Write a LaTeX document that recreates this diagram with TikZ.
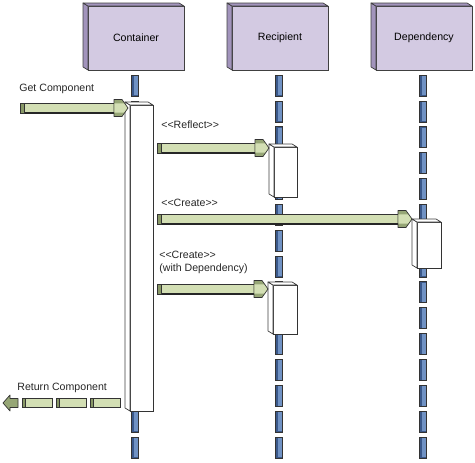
\documentclass[tikz,border=0pt]{standalone}
\usepackage{fontspec}
\setmainfont{Liberation Sans}
\usetikzlibrary{positioning, calc}

\definecolor{boxviolet}{RGB}{211,202,226}
\definecolor{boxside}{RGB}{162,148,188}
\definecolor{lifeblue}{RGB}{112,146,196}
\definecolor{lifeside}{RGB}{58,88,138}
\definecolor{shaftgreen}{RGB}{211,223,180}
\definecolor{headgreen}{RGB}{150,166,118}
\definecolor{tailgreen}{RGB}{136,152,102}

\tikzset{
  actor/.style={draw=black!75, fill=boxviolet, minimum width=96pt, minimum height=64pt, inner sep=0pt, outer sep=0pt},
  activation/.style={draw=black!80, fill=white, minimum width=23pt, inner sep=0pt, outer sep=0pt, anchor=north west},
  lbl/.style={anchor=west, inner sep=0pt, text=black!85}
}

% left and top faces of a box
\newcommand{\depthfaces}[2]{%
  \filldraw[fill=#2, draw=black!75, line join=round] (#1.north west) -- ([shift={(-5,-3)}]#1.north west) -- ([shift={(-5,-3)}]#1.south west) -- (#1.south west) -- cycle;
  \filldraw[fill=#2, draw=black!75, line join=round] (#1.north west) -- ([shift={(-5,-3)}]#1.north west) -- ([shift={(-5,-3)}]#1.north east) -- (#1.north east) -- cycle;
}

% block arrow from tail #1 to tip #2
\newcommand{\blockmsg}[2]{%
  \filldraw[fill=shaftgreen, draw=black!80] let \p1=(#1), \p2=(#2) in
    (\x1,\y2+5pt) rectangle (\x2-13pt,\y2-5pt);
  \draw[black!85, line width=1.2pt] let \p1=(#1), \p2=(#2) in
    (\x1,\y2-5pt) -- (\x2-13pt,\y2-5pt);
  \filldraw[fill=tailgreen, draw=black!80] let \p1=(#1), \p2=(#2) in
    (\x1,\y2+5pt) rectangle (\x1+4pt,\y2-5pt);
  \filldraw[fill=headgreen, draw=black!80, line join=round] let \p1=(#1), \p2=(#2) in
    (\x2-14pt,\y2+8.5pt) -- (\x2-6pt,\y2+8.5pt) -- (\x2,\y2) -- (\x2-6pt,\y2-8.5pt) -- (\x2-14pt,\y2-8.5pt) -- cycle;
  \fill[shaftgreen] let \p1=(#1), \p2=(#2) in
    (\x2-13.6pt,\y2+4.6pt) -- (\x2-4pt,\y2+4.6pt) -- (\x2-0.8pt,\y2) -- (\x2-4pt,\y2-4.6pt) -- (\x2-13.6pt,\y2-4.6pt) -- cycle;
}

\begin{document}
\begin{tikzpicture}[x=1pt, y=-1pt, line width=0.7pt, font=\fontsize{10.6}{12.8}\selectfont]
    \useasboundingbox (0,0) rectangle (475,463);
    % Objects
    \node[actor] (cont) at (136,38) {Container};
    \node[actor, right=48pt of cont] (recip) {Recipient};
    \node[actor, right=48pt of recip] (dep) {Dependency};
    \depthfaces{cont}{boxside}
    \depthfaces{recip}{boxside}
    \depthfaces{dep}{boxside}
    % Lifelines
    \foreach \p in {cont,recip,dep}
      \foreach \k in {0,...,14}{
        \filldraw[fill=lifeside, draw=black!80] ([shift={(-4.5,5+\k*25.85)}]\p.south) rectangle +(7,21);
        \fill[lifeblue] ([shift={(-2.3,5.8+\k*25.85)}]\p.south) rectangle +(4.3,19.6);
      }
    % Activations
    \node[activation, minimum height=306pt] (ca) at (130,105) {};
    \node[activation, minimum height=50pt] (ra1) at (274,147) {};
    \node[activation, minimum height=46pt, minimum width=24pt] (da) at (417,222) {};
    \node[activation, minimum height=49pt, minimum width=24pt] (ra2) at (273,285) {};
    \depthfaces{ca}{white}
    \depthfaces{ra1}{white}
    \depthfaces{da}{white}
    \depthfaces{ra2}{white}
    % Messages
    \node[lbl] (lget) at (19,89) {Get Component};
    \node[lbl] (lrefl) at (161,124.5) {<{}<Reflect>{}>};
    \node[lbl] (lcre) at (161,203) {<{}<Create>{}>};
    \node[lbl, align=left] (lcredep) at (159,262.5) {<{}<Create>{}>\\(with Dependency)};
    \node[lbl] (lret) at (17,388) {Return Component};
    \coordinate (getstart) at (20,108);
    \blockmsg{getstart}{[shift={(-2,3)}]ca.north west}
    \blockmsg{[xshift=4pt]ca.east}{[shift={(-5,1)}]ra1.north west}
    \blockmsg{[xshift=4pt]ca.east}{[shift={(-5,-3)}]da.north west}
    \blockmsg{[xshift=4pt]ca.east}{[shift={(-5,4)}]ra2.north west}
    % Return
    \coordinate (ret) at (3,403);
    \foreach \s in {0,1,2}{
      \filldraw[fill=shaftgreen, draw=black!80] ([shift={(19+34*\s,-4.5)}]ret) rectangle +(30,9);
      \filldraw[fill=tailgreen, draw=black!80] ([shift={(19+34*\s,-4.5)}]ret) rectangle +(3,9);
    }
    \filldraw[fill=headgreen, draw=black!80, line join=round] (ret) -- ++(7,-8) -- ++(0,3.5) -- ++(8,0) -- ++(0,9) -- ++(-8,0) -- ++(0,3.5) -- cycle;
\end{tikzpicture}
\end{document}
